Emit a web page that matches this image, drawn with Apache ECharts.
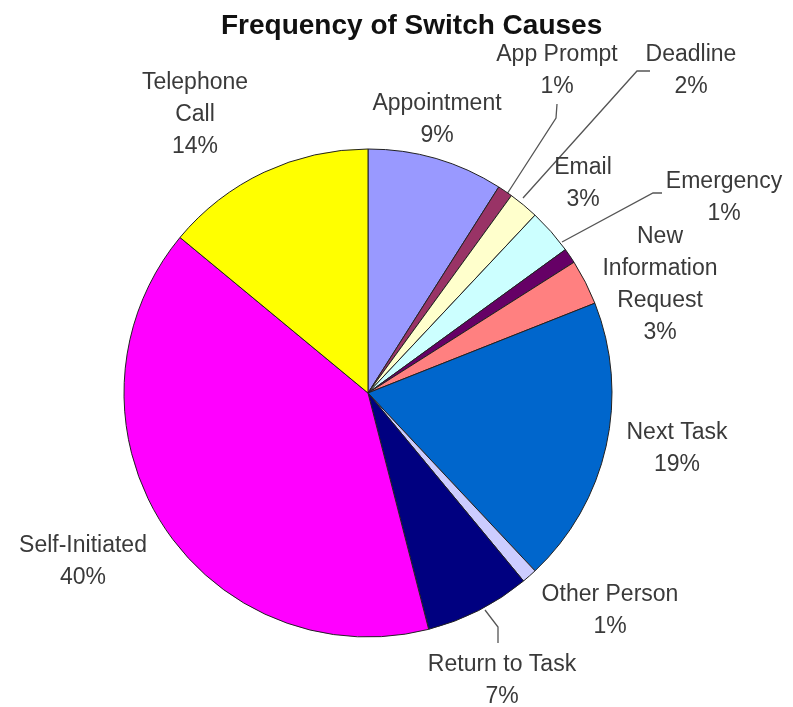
<!DOCTYPE html>
<html>
<head>
<meta charset="utf-8">
<script src="https://cdn.jsdelivr.net/npm/echarts@6/dist/echarts.min.js"></script>
<style>
  html, body { margin: 0; padding: 0; background: #fff; }
  #chart { width: 793px; height: 707px; }
</style>
</head>
<body>
<div id="chart"></div>
<script>
// Switch causes, clockwise from 12 o'clock
const categories = ['Appointment', 'App Prompt', 'Deadline', 'Email', 'Emergency',
  'New Information Request', 'Next Task', 'Other Person', 'Return to Task',
  'Self-Initiated', 'Telephone Call'];
const shares = [9, 1, 2, 3, 1, 3, 19, 1, 7, 40, 14];
const labelNames = ['Appointment', 'App Prompt', 'Deadline', 'Email', 'Emergency',
  'New\nInformation\nRequest', 'Next Task', 'Other Person', 'Return to Task',
  'Self-Initiated', 'Telephone\nCall'];
const sliceColors = ['#9999FF', '#993366', '#FFFFCC', '#CCFFFF', '#660066',
  '#FF8080', '#0066CC', '#CCCCFF', '#000080', '#FF00FF', '#FFFF00'];

// label block centres and leader lines (null = no leader line)
const labelSpots = [
  { x: 437, y: 120 },
  { x: 557, y: 71, line: [[507, 194], [556, 118], [557, 104]] },
  { x: 691, y: 71, line: [[523, 198], [637, 71], [650, 71]] },
  { x: 583, y: 184 },
  { x: 724, y: 198, line: [[562, 242], [653, 193], [662, 193]] },
  { x: 660, y: 285 },
  { x: 677, y: 449 },
  { x: 610, y: 611 },
  { x: 502, y: 681, line: [[485, 610], [498, 627], [498, 643]] },
  { x: 83, y: 562 },
  { x: 195, y: 115 }
];

const chart = echarts.init(document.getElementById('chart'));

const data = categories.map((name, i) => ({
  name: name,
  value: shares[i],
  itemStyle: { color: sliceColors[i] },
  label: { formatter: labelNames[i] + '\n' + shares[i] + '%' },
  labelLine: { show: !!labelSpots[i].line }
}));

chart.setOption({
  animation: false,
  backgroundColor: '#ffffff',
  title: {
    text: 'Frequency of Switch Causes',
    left: 216,
    top: 7,
    textStyle: {
      fontFamily: 'Liberation Sans, Arial, sans-serif',
      fontSize: 28,
      fontWeight: 'bold',
      color: '#111'
    }
  },
  series: [{
    type: 'pie',
    center: [368, 393],
    radius: 244,
    startAngle: 90,
    clockwise: true,
    avoidLabelOverlap: false,
    data: data,
    itemStyle: { borderColor: '#222', borderWidth: 1 },
    label: {
      show: true,
      position: 'outer',
      fontFamily: 'Liberation Sans, Arial, sans-serif',
      fontSize: 23,
      lineHeight: 32,
      color: '#3a3a3a',
      align: 'center'
    },
    labelLine: {
      lineStyle: { color: '#555', width: 1.3 }
    },
    labelLayout: function (params) {
      const spot = labelSpots[params.dataIndex];
      const out = { x: spot.x, y: spot.y, align: 'center', verticalAlign: 'middle' };
      if (spot.line) out.labelLinePoints = spot.line;
      return out;
    },
    emphasis: { disabled: true }
  }]
});
</script>
</body>
</html>
